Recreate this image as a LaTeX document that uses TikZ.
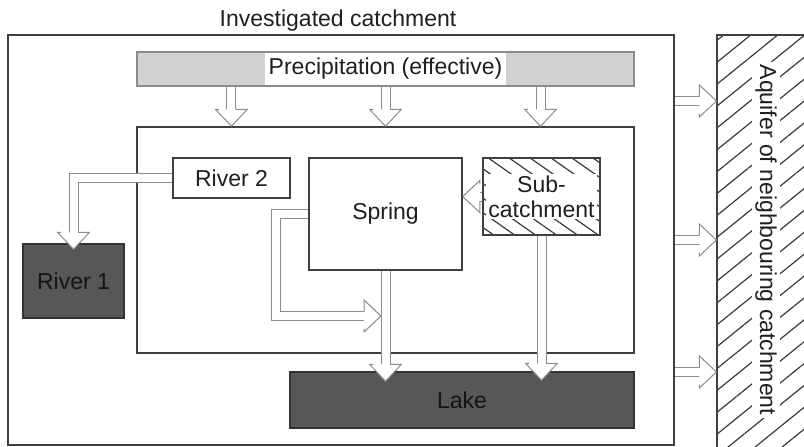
\documentclass[tikz,border=0pt]{standalone}
\usepackage{fontspec}
\setmainfont{Liberation Sans}
\usetikzlibrary{calc,decorations.markings,patterns.meta}

\definecolor{linegray}{HTML}{404040}
\definecolor{flowgray}{HTML}{8C8C8C}
\definecolor{rainfill}{HTML}{D2D2D2}
\definecolor{waterfill}{HTML}{575757}
\definecolor{hatchgray}{HTML}{3A3A3A}

\tikzset{
  box/.style={draw=linegray, line width=0.75pt, fill=white, inner sep=0pt},
  water/.style={box, draw=black!80, fill=waterfill, text=black!92},
  hatched/.style 2 args={draw=linegray, line width=0.75pt, pattern color=hatchgray, pattern={Lines[angle=#1, distance=#2, line width=0.6pt]}},
  flow/.style={draw=flowgray, line width=0.5pt, double=white, double distance=4pt, line join=miter, shorten >=4pt,
    postaction={decorate, decoration={markings, mark=at position 1 with {
      \filldraw[draw=flowgray, fill=white, line width=0.5pt, line join=miter]
        (-8.5pt,2.25pt) -- (-8.5pt,8pt) -- (0pt,0pt) -- (-8.5pt,-8pt) -- (-8.5pt,-2.25pt);}}}}
}

\begin{document}
\begin{tikzpicture}[x=0.5pt, y=-0.5pt, font=\fontsize{11.5}{12.5}\selectfont, text=black!88]
\useasboundingbox (0,0) rectangle (804,446);

% catchment and its parts
\node[box, minimum width=333pt, minimum height=205pt] (outer) at (341,240) {};
\node[anchor=base] (title) at (338,26) {Investigated catchment};

\node[draw=flowgray, line width=0.75pt, fill=rainfill, minimum width=248.5pt, minimum height=17pt] (precip) at (385.5,69) {};
\node[fill=white, inner xsep=2pt, inner ysep=0pt, minimum height=16.2pt] (raintxt) at (precip) {Precipitation (effective)};

\node[box, minimum width=248.5pt, minimum height=113pt] (inner) at (385.5,240) {};
\node[box, minimum width=58.5pt, minimum height=20pt] (riv2) at (231.5,178) {River 2};
\node[box, minimum width=76.5pt, minimum height=56pt] (spring) at (385.5,214) {Spring};
\node[hatched={-35}{6pt}, minimum width=58.5pt, minimum height=38.5pt] (sub) at (541.5,196.5) {};
\node[fill=white, inner sep=1pt, align=center] (subtxt) at (sub) {Sub-\\catchment};

\node[water, minimum width=50.5pt, minimum height=37pt] (riv1) at (73.5,281) {River 1};
\node[water, minimum width=172pt, minimum height=28pt] (lake) at (462,400) {Lake};

% neighbouring aquifer
\node[hatched={39}{8.5pt}, minimum width=47.5pt, minimum height=208.5pt] (aquifer) at (764.5,243.5) {};
\node[fill=white, rotate=-90, inner sep=1.5pt] (aqtxt) at (766,240) {Aquifer of neighbouring catchment};

% flows
\coordinate (rain1) at ($(precip.south west)!0.191!(precip.south east)$);
\coordinate (rain3) at ($(precip.south west)!0.811!(precip.south east)$);
\draw[flow] (rain1) -- (rain1 |- inner.north);
\draw[flow] (precip.south) -- (inner.north);
\draw[flow] (rain3) -- (rain3 |- inner.north);

\draw[flow] (riv2.west) -| ($(riv1.north)+(0,6)$);
\draw[flow] (sub.west) -- (sub.west -| spring.east);
\coordinate (loopend) at ($(spring.south |- 0,316)+(-4.5,0)$);
\draw[flow] (spring.west) -- ++(-32,0) |- (loopend);
\draw[flow] (spring.south) -- ($(spring.south |- lake.north)+(0,10)$);
\draw[flow] (sub.south) -- ($(sub.south |- lake.north)+(0,9)$);

\coordinate (seep1) at ([yshift=69.5pt]outer.east);
\coordinate (seep3) at ([yshift=-66pt]outer.east);
\draw[flow] (seep1) -- (seep1 -| aquifer.west);
\draw[flow] (outer.east) -- (aquifer.west |- outer.east);
\draw[flow] (seep3) -- (seep3 -| aquifer.west);
\end{tikzpicture}
\end{document}
